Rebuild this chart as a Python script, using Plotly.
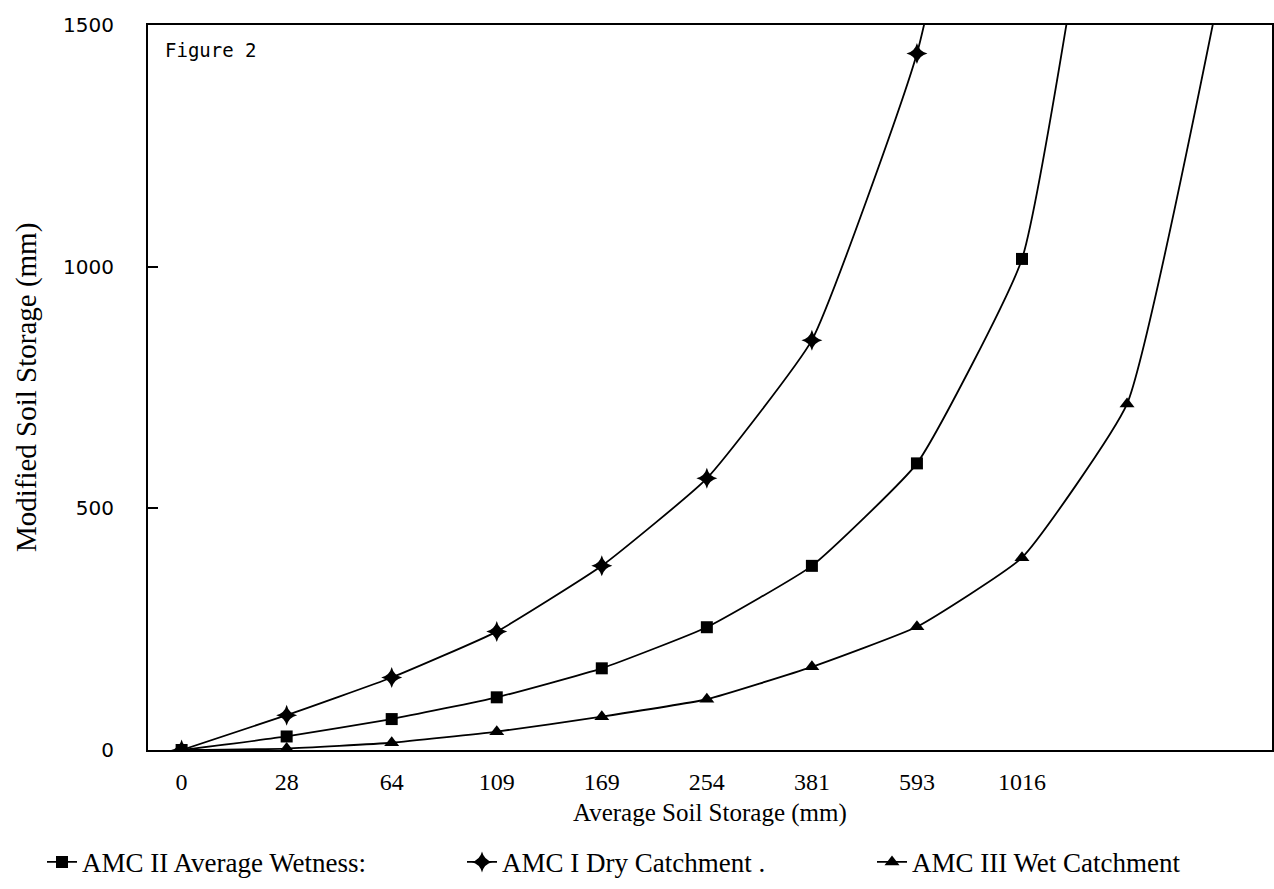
import plotly.graph_objects as go

# Category positions (index) and their tick labels; the last two categories are unlabeled
tick_labels = ["0", "28", "64", "109", "169", "254", "381", "593", "1016"]

# Series values (Modified Soil Storage, mm)
amc_ii = [0, 28, 64, 109, 169, 254, 381, 593, 1016, 2300]        # Average wetness
amc_i = [0, 72, 150, 245, 381, 562, 848, 1441, 2500]              # Dry catchment
amc_iii = [0, 3, 15, 38, 69, 105, 172, 255, 398, 716, 1700]       # Wet catchment

serif = "Liberation Serif, Times New Roman, serif"

fig = go.Figure()

def add(name, vals, symbol, size, legend):
    fig.add_trace(go.Scatter(
        x=list(range(len(vals))), y=vals, name=name, mode="lines+markers",
        line=dict(color="black", width=1.8, shape="spline", smoothing=0.4),
        marker=dict(symbol=symbol, size=size, color="black"),
        legend=legend,
    ))

add("AMC II Average Wetness:", amc_ii, "square", 12, "legend")
add("AMC I Dry Catchment .", amc_i, "star-diamond", 15, "legend2")
add("AMC III Wet Catchment", amc_iii, "triangle-up", 13, "legend3")

leg_common = dict(orientation="h", xref="container", yref="container", y=0.03,
                  yanchor="middle", xanchor="left", font=dict(family=serif, size=27),
                  bgcolor="rgba(0,0,0,0)")

fig.update_layout(
    width=1274, height=889,
    margin=dict(l=148, r=2, t=25, b=139, autoexpand=False),
    paper_bgcolor="white", plot_bgcolor="white",
    font=dict(family=serif, color="black", size=22),
    showlegend=True,
    legend=dict(x=42 / 1274, **leg_common),
    legend2=dict(x=462 / 1274, **leg_common),
    legend3=dict(x=872 / 1274, **leg_common),
    annotations=[
        dict(text="Figure 2", xref="paper", yref="paper", x=0.013, y=0.965,
             xanchor="left", yanchor="middle", showarrow=False,
             font=dict(family="DejaVu Sans Mono, monospace", size=19)),
        dict(text="Modified Soil Storage (mm)", xref="paper", yref="paper",
             x=-0.108, y=0.5, xanchor="center", yanchor="middle", textangle=-90,
             showarrow=False, font=dict(family=serif, size=29)),
        dict(text="Average Soil Storage (mm)", xref="paper", yref="paper",
             x=0.5, y=-0.087, xanchor="center", yanchor="middle",
             showarrow=False, font=dict(family=serif, size=25)),
    ],
)

fig.update_xaxes(
    range=[-0.32, 10.38],
    tickmode="array", tickvals=list(range(len(tick_labels))), ticktext=tick_labels,
    showgrid=False, zeroline=False,
    showline=True, linecolor="black", linewidth=2, mirror=True,
    ticks="", ticklabelstandoff=9,
    tickfont=dict(family=serif, size=24),
)

fig.update_yaxes(
    range=[0, 1500],
    tickvals=[0, 500, 1000, 1500],
    showgrid=False, zeroline=False,
    showline=True, linecolor="black", linewidth=2, mirror=True,
    ticks="inside", ticklen=10, tickwidth=1.5, tickcolor="black",
    ticklabelstandoff=28,
    tickfont=dict(family="DejaVu Sans, sans-serif", size=20),
)

fig.write_html("out.html")
